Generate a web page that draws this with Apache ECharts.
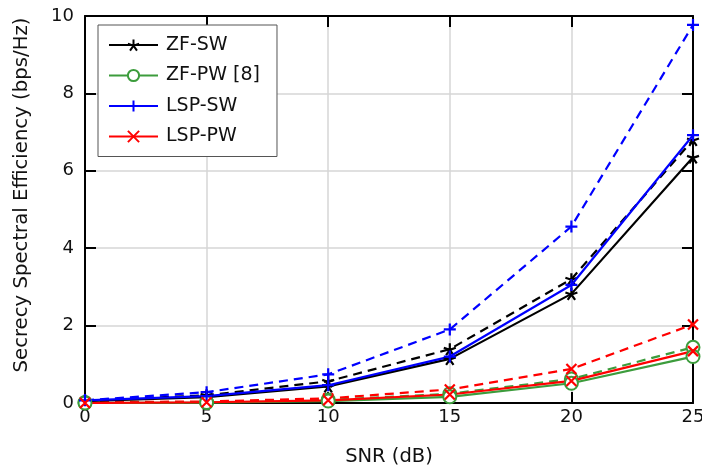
<!DOCTYPE html>
<html>
<head>
<meta charset="utf-8">
<script src="https://cdn.jsdelivr.net/npm/echarts@6/dist/echarts.min.js"></script>
<style>
  html, body { margin: 0; padding: 0; background: #fff; }
  #chart { width: 702px; height: 468px; }
</style>
</head>
<body>
<div id="chart"></div>
<script>
// SNR sweep (dB)
const snr = [0, 5, 10, 15, 20, 25];
const xTicks = [0, 5, 10, 15, 20, 25];
const yTicks = [0, 2, 4, 6, 8, 10];

// Secrecy spectral efficiency (bps/Hz), solid curves
const zfSw  = [0.05, 0.15, 0.43, 1.14, 2.82, 6.35];
const zfPw  = [0.00, 0.01, 0.05, 0.16, 0.51, 1.20];
const lspSw = [0.07, 0.18, 0.46, 1.20, 3.05, 6.92];
const lspPw = [0.00, 0.02, 0.07, 0.22, 0.57, 1.34];

// Companion dashed curves
const zfSwDash  = [0.06, 0.20, 0.56, 1.39, 3.20, 6.80];
const zfPwDash  = [0.01, 0.02, 0.08, 0.24, 0.62, 1.44];
const lspSwDash = [0.07, 0.28, 0.74, 1.90, 4.56, 9.77];
const lspPwDash = [0.02, 0.04, 0.12, 0.35, 0.88, 2.03];

const names = ['ZF-SW', 'ZF-PW [8]', 'LSP-SW', 'LSP-PW'];

const FONT = 'DejaVu Sans';
const GREEN = '#3c9c3c';

// Stroked marker shapes
const STAR = 'path://M0,0 L0,-10 M0,0 L9.51,-3.09 M0,0 L5.88,8.09 M0,0 L-5.88,8.09 M0,0 L-9.51,-3.09';
const PLUS = 'path://M0,-10 L0,10 M-10,0 L10,0';
const CROSS = 'path://M-10,-10 L10,10 M-10,10 L10,-10';

function mk(name, data, color, symbol, size, dashed) {
  return {
    name: name,
    type: 'line',
    data: snr.map((x, i) => [x, data[i]]),
    symbol: symbol,
    symbolSize: size,
    showAllSymbol: true,
    lineStyle: { color: color, width: 2.2, type: dashed ? [9, 6] : 'solid' },
    itemStyle: { color: color, borderColor: color, borderWidth: 2.2 },
    emphasis: { disabled: true },
    animation: false,
    z: dashed ? 2 : 3
  };
}

const series = [
  mk('ZF-SW dashed',     zfSwDash,  '#000000', STAR,  12, true),
  mk('ZF-PW [8] dashed', zfPwDash,  GREEN,     'emptyCircle', 13, true),
  mk('LSP-SW dashed',    lspSwDash, '#0000ff', PLUS,  12, true),
  mk('LSP-PW dashed',    lspPwDash, '#ff0000', CROSS, 10, true),
  mk(names[0], zfSw,  '#000000', STAR,  12, false),
  mk(names[1], zfPw,  GREEN,     'emptyCircle', 13, false),
  mk(names[2], lspSw, '#0000ff', PLUS,  12, false),
  mk(names[3], lspPw, '#ff0000', CROSS, 10, false)
];

const axisLine = { show: true, onZero: false, lineStyle: { color: '#000', width: 2 } };
const tick = { show: true, inside: true, length: 11, lineStyle: { color: '#000', width: 2 } };

const chart = echarts.init(document.getElementById('chart'), null, { renderer: 'canvas' });
chart.setOption({
  backgroundColor: '#ffffff',
  animation: false,
  grid: { left: 85, right: 9, top: 16, bottom: 65, containLabel: false, outerBoundsMode: 'none' },
  xAxis: [
    {
      type: 'value', min: xTicks[0], max: xTicks[xTicks.length - 1], interval: 5,
      position: 'bottom',
      name: 'SNR (dB)', nameLocation: 'middle', nameGap: 44,
      nameTextStyle: { fontFamily: FONT, fontSize: 19.5, color: '#111' },
      axisLine: axisLine, axisTick: tick,
      axisLabel: { margin: 5, fontFamily: FONT, fontSize: 18, color: '#111' },
      splitLine: { show: true, lineStyle: { color: '#d6d6d6', width: 1.5 } }
    },
    {
      type: 'value', min: xTicks[0], max: xTicks[xTicks.length - 1], interval: 5,
      position: 'top',
      axisLine: axisLine, axisTick: tick,
      axisLabel: { show: false }, splitLine: { show: false }
    }
  ],
  yAxis: [
    {
      type: 'value', min: yTicks[0], max: yTicks[yTicks.length - 1], interval: 2,
      position: 'left',
      axisLine: axisLine, axisTick: tick,
      axisLabel: { margin: 11, fontFamily: FONT, fontSize: 18, color: '#111' },
      splitLine: { show: true, lineStyle: { color: '#d6d6d6', width: 1.5 } }
    },
    {
      type: 'value', min: yTicks[0], max: yTicks[yTicks.length - 1], interval: 2,
      position: 'right',
      axisLine: axisLine, axisTick: tick,
      axisLabel: { show: false }, splitLine: { show: false }
    }
  ],
  legend: {
    data: names,
    orient: 'vertical',
    left: 98, top: 25,
    padding: [10, 17, 10, 10],
    itemGap: 10.5,
    itemWidth: 49, itemHeight: 14,
    backgroundColor: '#ffffff',
    borderColor: '#555555', borderWidth: 1, borderRadius: 0,
    selectedMode: false,
    textStyle: { fontFamily: FONT, fontSize: 19, color: '#111', lineHeight: 20, padding: [0, 0, 0, 3] }
  },
  graphic: [
    {
      type: 'text',
      x: 22, y: 195,
      rotation: Math.PI / 2,
      style: {
        text: 'Secrecy Spectral Efficiency (bps/Hz)',
        fontFamily: FONT, fontSize: 19.7, fill: '#111',
        align: 'center', verticalAlign: 'middle'
      }
    }
  ],
  series: series
});
</script>
</body>
</html>
